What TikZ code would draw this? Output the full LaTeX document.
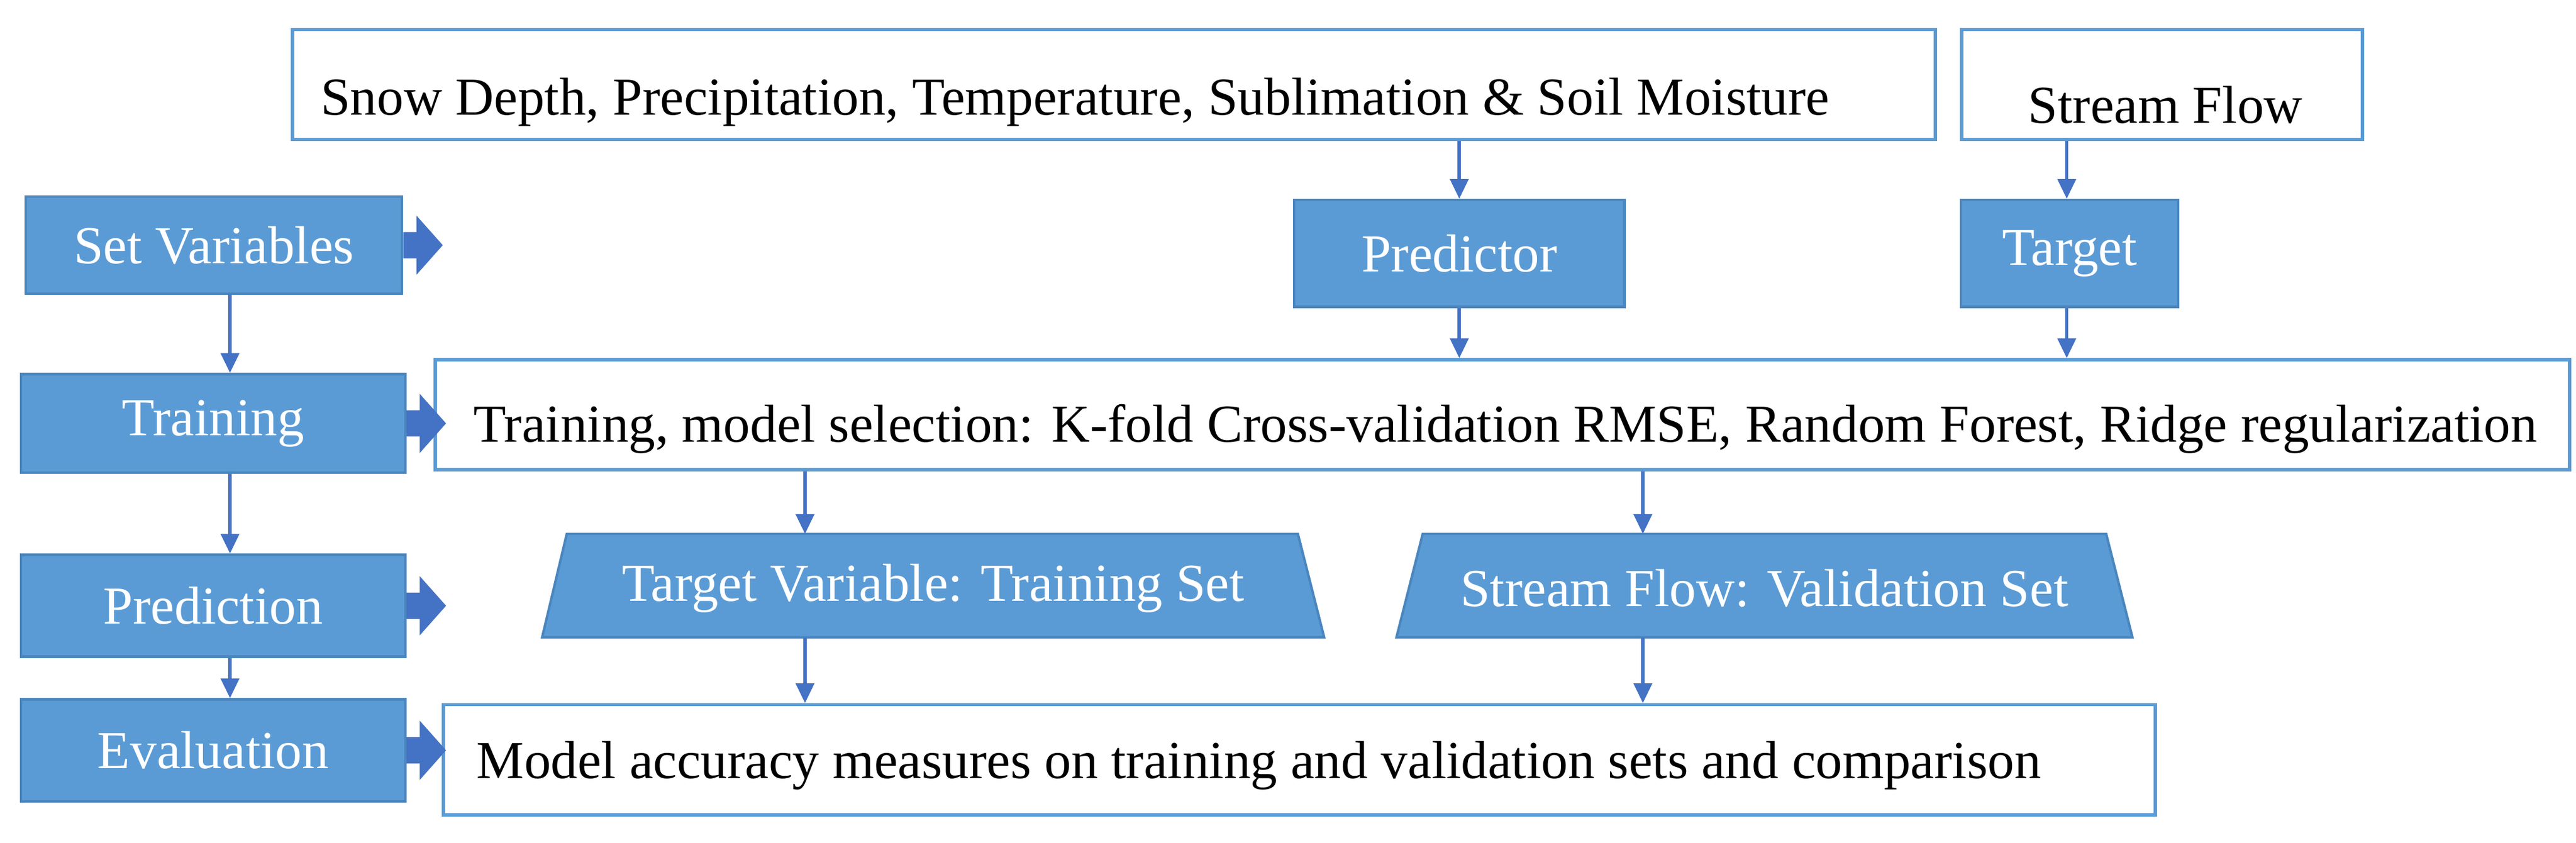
\documentclass[tikz,border=0pt]{standalone}
\usepackage{fontspec}
\setmainfont{Liberation Serif}
\usetikzlibrary{shapes.geometric,shapes.arrows,arrows.meta}
\definecolor{bblue}{HTML}{5B9BD5}
\definecolor{bedge}{HTML}{4A86BE}
\definecolor{ablue}{HTML}{4472C4}
\begin{document}
\begin{tikzpicture}[x=1pt,y=-1pt,
  txt/.style={font=\fontsize{32.5}{38}\selectfont},
  bluebox/.style={draw=bedge,line width=1.5pt,fill=bblue,text=white,txt},
  whitebox/.style={draw=bblue,line width=2pt,fill=white},
  lbl/.style={txt,anchor=west,inner sep=0pt},
  thin/.style={draw=ablue,line width=2pt,-{Triangle[length=12pt,width=11pt]}},
  blockarr/.style={fill=ablue,draw=none}]
\useasboundingbox (0,0) rectangle (1568,513);
% top boxes
\node[whitebox,minimum width=1000pt,minimum height=67pt,anchor=north west] (inp) at (177,17) {};
\node[lbl] (inpt) at (195,62) {Snow Depth, Precipitation, Temperature, Sublimation \& Soil Moisture};
\node[whitebox,minimum width=244pt,minimum height=67pt,anchor=north west] (sf) at (1193,17) {};
\node[txt] (sft) at (1318,64) {Stream Flow};
% left blue column
\node[bluebox,minimum width=229pt,minimum height=59pt,anchor=north west] (sv) at (15,119) {Set Variables};
\node[bluebox,minimum width=234pt,minimum height=60pt,anchor=north west] (tr) at (12,227) {Training};
\node[bluebox,minimum width=234pt,minimum height=62pt,anchor=north west] (pr) at (12,337) {Prediction};
\node[bluebox,minimum width=234pt,minimum height=62pt,anchor=north west] (ev) at (12,425) {Evaluation};
% predictor / target
\node[bluebox,minimum width=201pt,minimum height=65pt,anchor=north west] (pd) at (787,121) {Predictor};
\node[bluebox,minimum width=132pt,minimum height=65pt,anchor=north west] (tg) at (1193,121) {Target};
% training white box
\node[whitebox,minimum width=1299pt,minimum height=67pt,anchor=north west] (tw) at (264,218) {};
\node[lbl] (twt) at (288,261) {Training, model selection: K-fold Cross-validation RMSE, Random Forest, Ridge regularization};
% trapezoids
\path[fill=bblue,draw=bedge,line width=1.5pt] (345,325) -- (790,325) -- (806,388) -- (330,388) -- cycle;
\node[text=white,txt] (t1) at (568,358) {Target Variable: Training Set};
\path[fill=bblue,draw=bedge,line width=1.5pt] (866,325) -- (1282,325) -- (1298,388) -- (850,388) -- cycle;
\node[text=white,txt] (t2) at (1074,358) {Stream Flow: Validation Set};
\coordinate (t1top) at (490,325); \coordinate (t1bot) at (490,388);
\coordinate (t2top) at (1000,325); \coordinate (t2bot) at (1000,388);
% evaluation white box
\node[whitebox,minimum width=1042pt,minimum height=67pt,anchor=north west] (ew) at (269,428) {};
\node[lbl] (ewt) at (290,466) {Model accuracy measures on training and validation sets and comparison};
% thin arrows
\draw[thin] (inp.south -| pd) -- (pd.north);
\draw[thin] (sf.south -| 1258,0) -- (tg.north -| 1258,0);
\draw[thin] (pd.south) -- (tw.north -| pd);
\draw[thin] (tg.south -| 1258,0) -- (tw.north -| 1258,0);
\draw[thin] (sv.south -| 140,0) -- (tr.north -| 140,0);
\draw[thin] (tr.south -| 140,0) -- (pr.north -| 140,0);
\draw[thin] (pr.south -| 140,0) -- (ev.north -| 140,0);
\draw[thin] (tw.south -| t1top) -- (t1top);
\draw[thin] (tw.south -| t2top) -- (t2top);
\draw[thin] (t1bot) -- (ew.north -| t1bot);
\draw[thin] (t2bot) -- (ew.north -| t2bot);
% block arrows
\foreach \n in {sv,tr,pr,ev}{
  \path[blockarr] (\n.east) ++(0,-8) -- ++(8,0) -- ++(0,-10) -- ++(16,18) -- ++(-16,18) -- ++(0,-10) -- ++(-8,0) -- cycle;
}
\end{tikzpicture}
\end{document}
